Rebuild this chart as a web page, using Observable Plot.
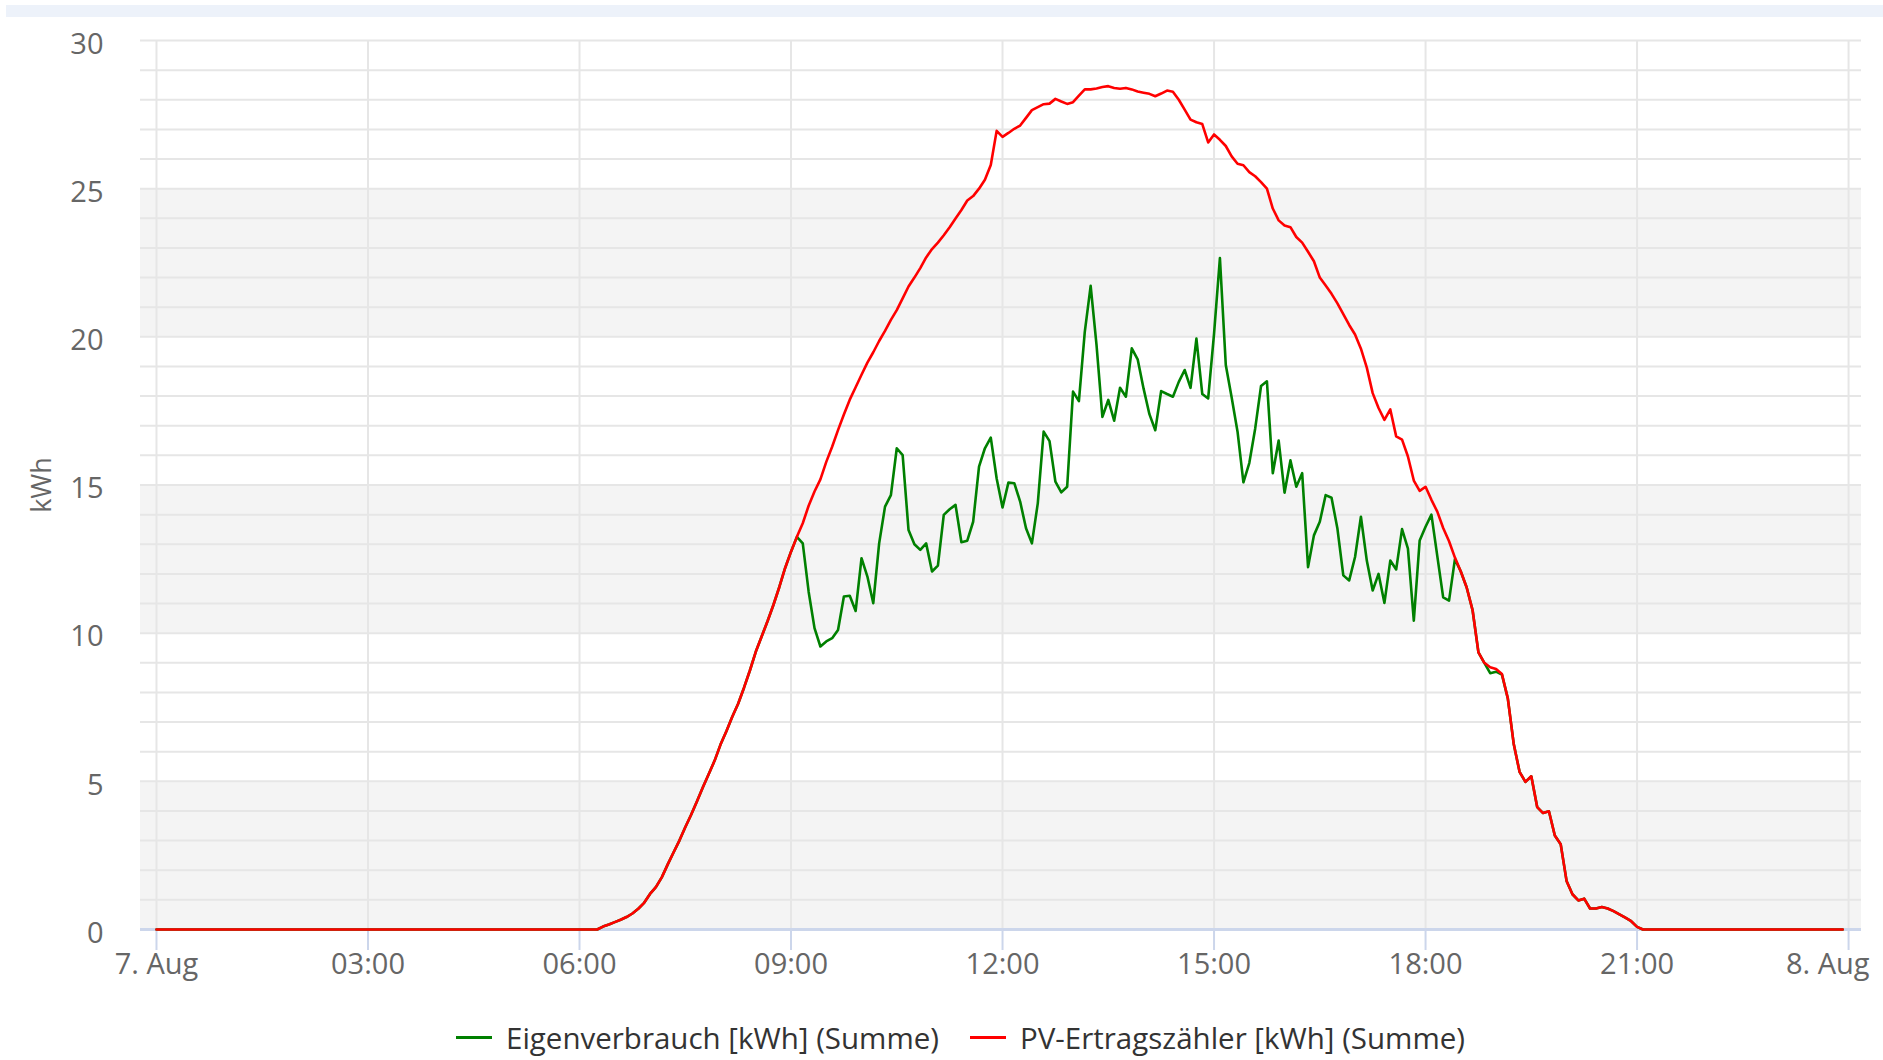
<!DOCTYPE html>
<html>
<head>
<meta charset="utf-8">
<script src="https://cdn.jsdelivr.net/npm/d3@7"></script>
<script src="https://cdn.jsdelivr.net/npm/@observablehq/plot@0.6"></script>
<style>
  html, body { margin: 0; padding: 0; background: #fff; width: 1883px; height: 1060px; overflow: hidden; font-family: "Open Sans", sans-serif; }
  #topbar { position: absolute; left: 6px; right: 0; top: 5px; height: 12px; background: #edf2fa; }
  #chart { position: absolute; left: 0; top: 0; }
  #legend { position: absolute; left: 456px; top: 1017px; display: flex; align-items: center; font-size: 29.5px; color: #333; white-space: nowrap; }
  #legend .item { display: flex; align-items: center; margin-right: 31px; }
  #legend .sym { display: inline-block; width: 36px; height: 3px; margin-right: 14px; }
</style>
</head>
<body>
<div id="topbar"></div>
<div id="chart"></div>
<div id="legend"></div>
<script>
// ---------------- data ----------------
const day = "2023-08-07";
const seriesStart = "06:15";     // first 5-minute slot with production
const slotMinutes = 5;
const edgeTimes = ["00:00", "23:55"]; // night: both series at 0
const edgeValue = 0;

const seriesNames = ["Eigenverbrauch [kWh] (Summe)", "PV-Ertragszähler [kWh] (Summe)"];
const seriesColors = ["#008000", "#ff0000"];

// PV-Ertragszähler, 06:15 … 21:05 every 5 minutes
const pvValues = [
  0, 0.1, 0.17, 0.25, 0.33, 0.42, 0.54, 0.7, 0.9,                    // 06:15-06:55
  1.2, 1.43, 1.76, 2.19, 2.6, 3.0, 3.45, 3.87, 4.33, 4.8, 5.25, 5.7,  // 07
  6.24, 6.69, 7.18, 7.62, 8.16, 8.74, 9.37, 9.89, 10.4, 10.95, 11.55, 12.2, // 08
  12.75, 13.25, 13.71, 14.3, 14.78, 15.19, 15.78, 16.29, 16.85, 17.38, 17.88, 18.3, // 09
  18.72, 19.13, 19.48, 19.86, 20.2, 20.57, 20.9, 21.3, 21.7, 22.0, 22.32, 22.68, // 10
  22.96, 23.18, 23.43, 23.7, 23.99, 24.28, 24.6, 24.75, 25.0, 25.3, 25.8, 26.95, // 11
  26.75, 26.88, 27.02, 27.13, 27.39, 27.65, 27.75, 27.85, 27.87, 28.03, 27.94, 27.86, // 12
  27.92, 28.14, 28.35, 28.35, 28.38, 28.43, 28.46, 28.4, 28.37, 28.4, 28.35, 28.28, // 13
  28.24, 28.2, 28.12, 28.21, 28.31, 28.27, 28.0, 27.67, 27.33, 27.24, 27.18, 26.56, // 14
  26.83, 26.65, 26.44, 26.09, 25.84, 25.79, 25.56, 25.42, 25.22, 25.0, 24.33, 23.93, // 15
  23.76, 23.7, 23.37, 23.18, 22.87, 22.55, 22.0, 21.73, 21.45, 21.13, 20.77, 20.4, // 16
  20.08, 19.6, 18.96, 18.1, 17.6, 17.2, 17.55, 16.64, 16.53, 15.96, 15.15, 14.8, // 17
  14.94, 14.5, 14.1, 13.55, 13.1, 12.55, 12.08, 11.54, 10.78, 9.35, 9.0, 8.85, // 18
  8.79, 8.62, 7.8, 6.27, 5.32, 4.98, 5.17, 4.13, 3.93, 3.99, 3.17, 2.88, // 19
  1.64, 1.19, 0.98, 1.04, 0.71, 0.71, 0.76, 0.71, 0.62, 0.51, 0.4, 0.28, // 20
  0.09, 0                                                              // 21:00-21:05
];

// Eigenverbrauch, same slots
const ownValues = [
  0, 0.1, 0.17, 0.25, 0.33, 0.42, 0.54, 0.7, 0.9,
  1.2, 1.43, 1.76, 2.19, 2.6, 3.0, 3.45, 3.87, 4.33, 4.8, 5.25, 5.7,
  6.24, 6.69, 7.18, 7.62, 8.16, 8.74, 9.37, 9.89, 10.4, 10.95, 11.55, 12.2,
  12.75, 13.25, 13.03, 11.4, 10.17, 9.55, 9.72, 9.83, 10.11, 11.24, 11.26, 10.75, // 09
  12.53, 11.91, 11.01, 13.03, 14.27, 14.66, 16.24, 16.01, 13.48, 13.0, 12.81, 13.03, // 10
  12.08, 12.28, 13.99, 14.18, 14.33, 13.07, 13.12, 13.76, 15.62, 16.24, 16.6, 15.22, // 11
  14.24, 15.08, 15.06, 14.44, 13.54, 13.03, 14.38, 16.8, 16.48, 15.11, 14.75, 14.94, // 12
  18.15, 17.83, 20.17, 21.72, 19.72, 17.3, 17.87, 17.17, 18.28, 17.98, 19.61, 19.24, // 13
  18.26, 17.39, 16.85, 18.17, 18.07, 17.98, 18.48, 18.88, 18.28, 19.94, 18.07, 17.92, // 14
  20.1, 22.66, 19.05, 17.95, 16.8, 15.09, 15.74, 16.9, 18.34, 18.5, 15.4, 16.5, // 15
  14.74, 15.83, 14.94, 15.4, 12.23, 13.3, 13.76, 14.66, 14.57, 13.53, 11.95, 11.78, // 16
  12.57, 13.93, 12.45, 11.44, 12.0, 11.02, 12.45, 12.15, 13.51, 12.85, 10.42, 13.13, // 17
  13.59, 14.0, 12.6, 11.21, 11.1, 12.5, 12.08, 11.54, 10.78, 9.35, 9.0, 8.65, // 18
  8.7, 8.6, 7.8, 6.27, 5.32, 4.98, 5.17, 4.13, 3.93, 3.99, 3.17, 2.88, // 19
  1.64, 1.19, 0.98, 1.04, 0.71, 0.71, 0.76, 0.71, 0.62, 0.51, 0.4, 0.28, // 20
  0.09, 0
];

const xTickTimes = ["2023-08-07 00:00","2023-08-07 03:00","2023-08-07 06:00","2023-08-07 09:00","2023-08-07 12:00","2023-08-07 15:00","2023-08-07 18:00","2023-08-07 21:00","2023-08-08 00:00"];
const xTickLabels = ["7. Aug","03:00","06:00","09:00","12:00","15:00","18:00","21:00","8. Aug"];
const yTickValues = [0, 5, 10, 15, 20, 25, 30];
const yBands = [{from: 0, to: 5}, {from: 10, to: 15}, {from: 20, to: 25}];
const yLabel = "kWh";

// ---------------- build ----------------
const parse = d3.utcParse("%Y-%m-%d %H:%M");
const slotStart = parse(`${day} ${seriesStart}`);
const slotTime = i => d3.utcMinute.offset(slotStart, i * slotMinutes);
function series(name, vals) {
  return [
    {t: parse(`${day} ${edgeTimes[0]}`), v: edgeValue, name},
    ...vals.map((v, i) => ({t: slotTime(i), v, name})),
    {t: parse(`${day} ${edgeTimes[1]}`), v: edgeValue, name}
  ];
}
const ownData = series(seriesNames[0], ownValues);
const pvData = series(seriesNames[1], pvValues);

const xTicks = xTickTimes.map(parse);
const xRows = xTicks.map((t, i) => ({t, label: xTickLabels[i]}));
const minorY = d3.range(1, 31);

const W = 1883, H = 1000;
const mTop = 40, mBottom = H - 929, mLeft = 140, mRight = W - 1861;
const pad0 = 13.6 * 60000, pad1 = 11 * 60000;
const xDomain = [new Date(+xTicks[0] - pad0), new Date(+xTicks[xTicks.length - 1] + pad1)];

const font = "'Open Sans', sans-serif";
const chart = Plot.plot({
  width: W, height: H,
  marginTop: mTop, marginBottom: mBottom, marginLeft: mLeft, marginRight: mRight,
  style: {fontFamily: font, background: "transparent", overflow: "visible"},
  x: {type: "utc", domain: xDomain},
  y: {domain: [0, 30]},
  marks: [
    Plot.rect(yBands, {y1: "from", y2: "to", fill: "#f4f4f4"}),
    Plot.ruleY(minorY, {stroke: "#e6e6e6", strokeWidth: 2}),
    Plot.ruleX(xTicks, {stroke: "#e6e6e6", strokeWidth: 2}),
    Plot.ruleY([0], {stroke: "#ccd6eb", strokeWidth: 3}),
    Plot.axisX({ticks: xTicks, tickSize: 21, stroke: "#ccd6eb", strokeWidth: 2, tickFormat: () => "", label: null}),
    Plot.text(xRows.slice(0, -1), {x: "t", text: "label", frameAnchor: "bottom", lineAnchor: "top", dy: 24, fontSize: 29, fill: "#666"}),
    Plot.text(xRows.slice(-1), {x: "t", text: "label", frameAnchor: "bottom", lineAnchor: "top", dy: 24, dx: 21, textAnchor: "end", fontSize: 29, fill: "#666"}),
    Plot.axisY({ticks: yTickValues, tickSize: 0, tickPadding: 37, fontSize: 29, fill: "#666", dy: 4, label: null}),
    Plot.text([yLabel], {text: d => d, frameAnchor: "left", textAnchor: "middle", dx: -98, rotate: -90, fontSize: 27, fill: "#666"}),
    Plot.line(ownData, {x: "t", y: "v", stroke: seriesColors[0], strokeWidth: 2.6, strokeLinejoin: "round"}),
    Plot.line(pvData, {x: "t", y: "v", stroke: seriesColors[1], strokeWidth: 2.6, strokeLinejoin: "round"})
  ]
});
document.getElementById("chart").appendChild(chart);

const legend = document.getElementById("legend");
seriesNames.forEach((n, i) => {
  const item = document.createElement("span");
  item.className = "item";
  const sym = document.createElement("span");
  sym.className = "sym";
  sym.style.background = seriesColors[i];
  const txt = document.createElement("span");
  txt.textContent = n;
  item.appendChild(sym); item.appendChild(txt);
  legend.appendChild(item);
});
</script>
</body>
</html>
